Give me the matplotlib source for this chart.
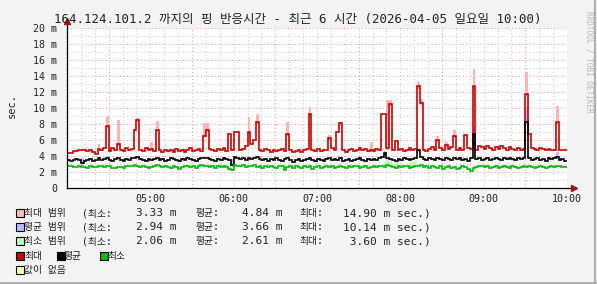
import matplotlib
matplotlib.use('Agg')
import matplotlib.pyplot as plt
import numpy
from matplotlib.patches import Rectangle
from matplotlib.lines import Line2D

plt.rcParams['font.family'] = ['DejaVu Sans Mono', 'Noto Sans CJK KR']

W, H = 597, 284

# ---- data (2 minute steps from 04:00 to 10:00) ----
step_min = 2
red_max = [4.4, 4.4, 4.6, 4.6, 4.8, 4.7, 4.8, 4.6, 4.7, 4.5,
           4.3, 4.9, 4.8, 5.0, 7.8, 4.6, 5.0, 4.7, 5.5, 4.8,
           4.6, 5.0, 4.7, 4.9, 7.3, 8.5, 4.8, 4.6, 5.0, 4.7,
           4.9, 4.6, 7.3, 4.7, 4.5, 4.8, 4.6, 4.7, 4.5, 4.9,
           4.6, 4.8, 4.5, 4.7, 5.0, 4.6, 4.8, 4.9, 4.6, 6.5,
           7.3, 4.9, 4.7, 4.6, 4.9, 4.7, 5.0, 4.6, 6.8, 4.8,
           7.0, 7.0, 4.7, 4.9, 5.2, 7.0, 5.5, 6.0, 8.2, 4.8,
           4.6, 4.9, 4.7, 4.5, 4.8, 4.6, 4.7, 4.9, 4.6, 6.8,
           4.7, 4.5, 4.6, 4.8, 4.5, 4.7, 4.9, 9.3, 4.7, 4.6,
           4.9, 4.6, 4.8, 4.7, 6.2, 5.0, 4.8, 7.0, 8.1, 4.7,
           4.5, 4.7, 4.9, 4.6, 4.8, 5.0, 4.7, 4.9, 4.6, 4.8,
           4.6, 4.9, 4.7, 9.25, 9.25, 5.0, 10.5, 4.8, 5.9, 4.7,
           4.9, 4.6, 4.8, 5.0, 4.7, 4.9, 12.7, 10.6, 4.8, 4.6,
           4.9, 5.1, 4.7, 6.0, 5.0, 4.8, 5.4, 4.9, 5.1, 6.5,
           4.8, 5.0, 4.7, 6.6, 5.0, 4.9, 12.7, 4.8, 5.3, 5.1,
           4.9, 5.2, 5.0, 4.8, 5.1, 4.9, 5.2, 5.0, 4.8, 5.1,
           4.9, 4.8, 5.0, 4.7, 4.9, 11.8, 6.75, 5.0, 4.9, 4.8,
           5.0, 4.9, 4.7, 4.9, 4.8, 4.7, 8.3, 4.8, 4.7, 4.7]

black_avg = [3.5, 3.4, 3.5, 3.6, 3.5, 3.1, 3.4, 3.5, 3.6, 3.4,
             3.5, 3.7, 3.5, 3.6, 3.8, 3.5, 3.4, 3.6, 3.7, 3.5,
             3.4, 3.6, 3.5, 3.7, 3.8, 3.9, 3.6, 3.5, 3.4, 3.6,
             3.5, 3.6, 3.7, 3.5, 3.6, 3.4, 3.5, 3.7, 3.6, 3.5,
             3.4, 3.6, 3.5, 3.7, 3.6, 3.5, 3.4, 3.6, 3.8, 3.7,
             3.8, 3.6, 3.5, 3.4, 3.6, 3.5, 3.7, 3.6, 3.5, 2.9,
             3.9, 3.8, 3.6, 3.7, 3.5, 3.8, 3.6, 3.7, 3.9, 3.6,
             3.5, 3.6, 3.4, 3.6, 3.5, 3.7, 3.5, 3.4, 3.6, 3.8,
             3.5, 3.3, 3.5, 3.6, 3.4, 3.5, 3.6, 3.7, 3.5, 3.4,
             3.6, 3.5, 3.4, 3.6, 3.7, 3.5, 3.6, 3.5, 3.7, 3.4,
             3.5, 3.6, 3.4, 3.5, 3.6, 3.7, 3.5, 3.4, 3.6, 3.5,
             3.6, 3.5, 3.7, 3.9, 4.4, 3.8, 3.6, 3.5, 3.4, 3.6,
             3.5, 3.7, 3.6, 3.5, 3.6, 3.8, 4.75, 3.9, 3.6, 3.5,
             3.7, 3.6, 3.5, 3.8, 3.6, 3.5, 3.7, 3.6, 3.5, 3.7,
             3.6, 3.8, 3.5, 3.6, 3.4, 3.7, 6.8, 3.6, 3.7, 3.5,
             3.6, 3.7, 3.5, 3.6, 3.8, 3.6, 3.5, 3.7, 3.6, 3.8,
             3.6, 3.5, 3.7, 3.6, 3.8, 8.3, 3.7, 3.5, 3.6, 3.7,
             3.5, 3.6, 3.4, 3.7, 3.6, 3.8, 3.9, 3.5, 3.6, 3.4]

green_min = [2.7, 2.7, 2.6, 2.6, 2.8, 2.6, 2.6, 2.5, 2.7, 2.6,
             2.6, 2.8, 2.7, 2.6, 2.8, 2.7, 2.5, 2.5, 2.6, 2.6,
             2.5, 2.7, 2.8, 2.7, 2.9, 2.8, 2.6, 2.7, 2.6, 2.5,
             2.6, 2.7, 2.9, 2.7, 2.6, 2.8, 2.6, 2.5, 2.7, 2.6,
             2.4, 2.6, 2.7, 2.8, 2.6, 2.7, 2.5, 2.8, 2.9, 2.7,
             2.8, 2.6, 2.7, 2.5, 2.7, 2.6, 2.8, 2.6, 2.4, 2.3,
             2.9, 2.8, 2.7, 2.9, 2.6, 2.8, 2.7, 2.9, 2.6, 2.7,
             2.5, 2.7, 2.6, 2.8, 2.6, 2.5, 2.7, 2.8, 2.2, 2.6,
             2.7, 2.5, 2.8, 2.6, 2.5, 2.7, 2.6, 2.8, 2.4, 2.6,
             2.7, 2.5, 2.6, 2.8, 2.6, 2.7, 2.5, 2.6, 2.7, 2.6,
             2.5, 2.7, 2.6, 2.8, 2.7, 2.5, 2.6, 2.7, 2.5, 2.6,
             2.7, 2.6, 2.8, 2.7, 2.6, 2.9, 2.8, 2.6, 2.5, 2.7,
             2.6, 2.8, 2.7, 2.5, 2.6, 2.8, 2.7, 2.9, 2.6, 2.7,
             2.5, 2.7, 2.6, 2.5, 2.7, 2.4, 2.6, 2.7, 2.5, 2.6,
             2.4, 2.5, 2.7, 2.6, 2.4, 2.1, 2.5, 2.6, 2.8, 2.7,
             2.6, 2.8, 2.5, 2.6, 2.7, 2.5, 2.6, 2.7, 2.6, 2.5,
             2.7, 2.6, 2.5, 2.6, 2.7, 2.6, 2.8, 2.6, 2.5, 2.6,
             2.7, 2.6, 2.5, 2.6, 2.7, 2.6, 2.8, 2.7, 2.6, 2.6]

# range bands (only where they stick out of the lines)
pink_idx = [11, 14, 18, 25, 30, 32, 49, 50, 65, 68, 79, 87, 94, 98, 109,
            115, 116, 126, 127, 133, 136, 139, 146, 165, 176]
pink_top = [5.5, 9.0, 8.5, 8.7, 5.8, 8.4, 8.1, 8.1, 8.9, 9.3, 8.2, 10.1, 6.6, 8.3, 5.8,
            11.0, 11.0, 13.3, 11.1, 6.5, 5.8, 7.3, 14.9, 14.5, 10.25]
blue_idx = [5, 14, 59, 114, 126, 146, 165, 176]
blue_top = [3.7, 4.0, 3.6, 4.6, 4.9, 7.6, 10.1, 4.5]
lgreen_idx = [53, 55, 57, 58, 114, 115, 116, 118, 123, 124, 125]
lgreen_top = [3.1, 3.2, 3.0, 3.1, 3.3, 3.6, 3.3, 3.2, 3.3, 3.2, 3.3]

hour_labels = ['05:00', '06:00', '07:00', '08:00', '09:00', '10:00']
hour_ticks = [60, 120, 180, 240, 300, 360]

title = '164.124.101.2 까지의 핑 반응시간 - 최근 6 시간 (2026-04-05 일요일 10:00)'

legend_rows = [
    ('#FFBBBB', '최대 범위', '3.33 m', '4.84 m', '14.90 m sec.)'),
    ('#BBBBFF', '평균 범위', '2.94 m', '3.66 m', '10.14 m sec.)'),
    ('#BBFFBB', '최소 범위', '2.06 m', '2.61 m', ' 3.60 m sec.)'),
]

c_red = '#CC0000'
c_green = '#00BB00'


def fx(x):
    return x / W


def fy(y):
    return 1 - y / H


fig = plt.figure(figsize=(W / 100, H / 100), dpi=100, facecolor='#F3F3F3')
ax = fig.add_axes([fx(67), fy(188), 500 / W, 160 / H])
ax.set_facecolor('white')
ax.set_xlim(0, 360)
ax.set_ylim(0, 20)
for s in ax.spines.values():
    s.set_visible(False)

# grid: gray dotted minor, red dotted major
dot = (0, (1.2, 2.4))
for v in range(1, 21):
    if v % 2 == 1:
        ax.axhline(v, color='#CDCDCD', lw=0.7, ls=dot, zorder=0)
    else:
        ax.axhline(v, color='#FF9A9A', lw=0.7, ls=dot, zorder=0)
for m in range(10, 361, 10):
    if m % 60 == 30:
        ax.axvline(m, color='#FF9A9A', lw=0.7, ls=dot, zorder=0)
    else:
        ax.axvline(m, color='#CDCDCD', lw=0.7, ls=dot, zorder=0)

edges = numpy.arange(len(red_max) + 1) * step_min
red = numpy.array(red_max)
blk = numpy.array(black_avg)
grn = numpy.array(green_min)

# bands
ax.bar(numpy.array(pink_idx) * step_min, numpy.array(pink_top) - red[pink_idx] + 0.3,
       bottom=red[pink_idx] - 0.3, width=step_min, align='edge', color='#FFB4B4', lw=0, zorder=1)
ax.bar(numpy.array(blue_idx) * step_min, numpy.array(blue_top) - blk[blue_idx] + 0.3,
       bottom=blk[blue_idx] - 0.3, width=step_min, align='edge', color='#BBBBFF', lw=0, zorder=1)
ax.bar(numpy.array(lgreen_idx) * step_min, numpy.array(lgreen_top) - grn[lgreen_idx],
       bottom=grn[lgreen_idx], width=step_min, align='edge', color='#BBFFBB', lw=0, zorder=1)

# lines
ax.stairs(red, edges, baseline=None, color=c_red, lw=1.2, zorder=3)
ax.stairs(blk, edges, baseline=None, color='black', lw=1.2, zorder=3)
ax.stairs(grn, edges, baseline=None, color=c_green, lw=1.2, zorder=3)

# axes with arrows
ax.add_line(Line2D([0, 0], [0, 1.04], transform=ax.transAxes, color='black', lw=0.9, clip_on=False, zorder=5))
ax.add_line(Line2D([0, 1.012], [0, 0], transform=ax.transAxes, color='black', lw=0.9, clip_on=False, zorder=5))
ax.plot([0], [1.045], marker='^', ms=4, color='#A01010', transform=ax.transAxes, clip_on=False, zorder=6)
ax.plot([1.014], [0], marker='>', ms=4, color='#A01010', transform=ax.transAxes, clip_on=False, zorder=6)

ax.set_yticks(range(0, 21, 2))
ax.set_yticklabels(['0'] + ['%d m' % v for v in range(2, 21, 2)])
ax.set_xticks(hour_ticks)
ax.set_xticklabels(hour_labels)
ax.tick_params(axis='y', length=0, pad=7, labelsize=7.2, colors='#222222')
ax.tick_params(axis='x', length=0, pad=4, labelsize=7.2, colors='#222222')

# texts
fig.text(fx(298), fy(19), title, ha='center', va='center', fontsize=9, color='#222222')
fig.text(fx(12), fy(105), 'sec.', ha='center', va='center', rotation=90, fontsize=7.5, color='#222222')
fig.text(fx(589), fy(62), 'RRDTOOL / TOBI OETIKER', ha='center', va='center', rotation=270,
         fontsize=5.5, color='#B8B8B8')

# legend
row_y = [213, 227, 241, 256, 270]


def square(x, y, color):
    fig.patches.append(Rectangle((fx(x), fy(y + 4)), 8 / W, 8 / H, transform=fig.transFigure,
                                 facecolor=color, edgecolor='black', lw=0.8))


for k, (col, name, vmin, vavg, vmax) in enumerate(legend_rows):
    y = row_y[k]
    square(16, y, col)
    fig.text(fx(24), fy(y), name, ha='left', va='center', fontsize=7, color='#222222')
    fig.text(fx(82), fy(y), '(최소:', ha='left', va='center', fontsize=7, color='#222222')
    fig.text(fx(177), fy(y), vmin, ha='right', va='center', fontsize=8, color='#222222')
    fig.text(fx(195), fy(y), '평균:', ha='left', va='center', fontsize=7, color='#222222')
    fig.text(fx(283), fy(y), vavg, ha='right', va='center', fontsize=8, color='#222222')
    fig.text(fx(299), fy(y), '최대:', ha='left', va='center', fontsize=7, color='#222222')
    fig.text(fx(431), fy(y), vmax, ha='right', va='center', fontsize=8, color='#222222')

square(16, row_y[3], c_red)
fig.text(fx(24), fy(row_y[3]), '최대', ha='left', va='center', fontsize=7, color='#222222')
square(57, row_y[3], 'black')
fig.text(fx(64), fy(row_y[3]), '평균', ha='left', va='center', fontsize=7, color='#222222')
square(100, row_y[3], c_green)
fig.text(fx(107), fy(row_y[3]), '최소', ha='left', va='center', fontsize=7, color='#222222')
square(16, row_y[4], '#FFFFAA')
fig.text(fx(24), fy(row_y[4]), '값이 없음', ha='left', va='center', fontsize=7, color='#222222')

# frame edges
fig.add_artist(Line2D([fx(595), fx(595)], [fy(0), fy(283)], transform=fig.transFigure, color='#B0B0B0', lw=1.5))
fig.add_artist(Line2D([fx(0), fx(596)], [fy(282.5), fy(282.5)], transform=fig.transFigure, color='#B0B0B0', lw=1.5))

fig.savefig('out.png', dpi=100, facecolor=fig.get_facecolor())
